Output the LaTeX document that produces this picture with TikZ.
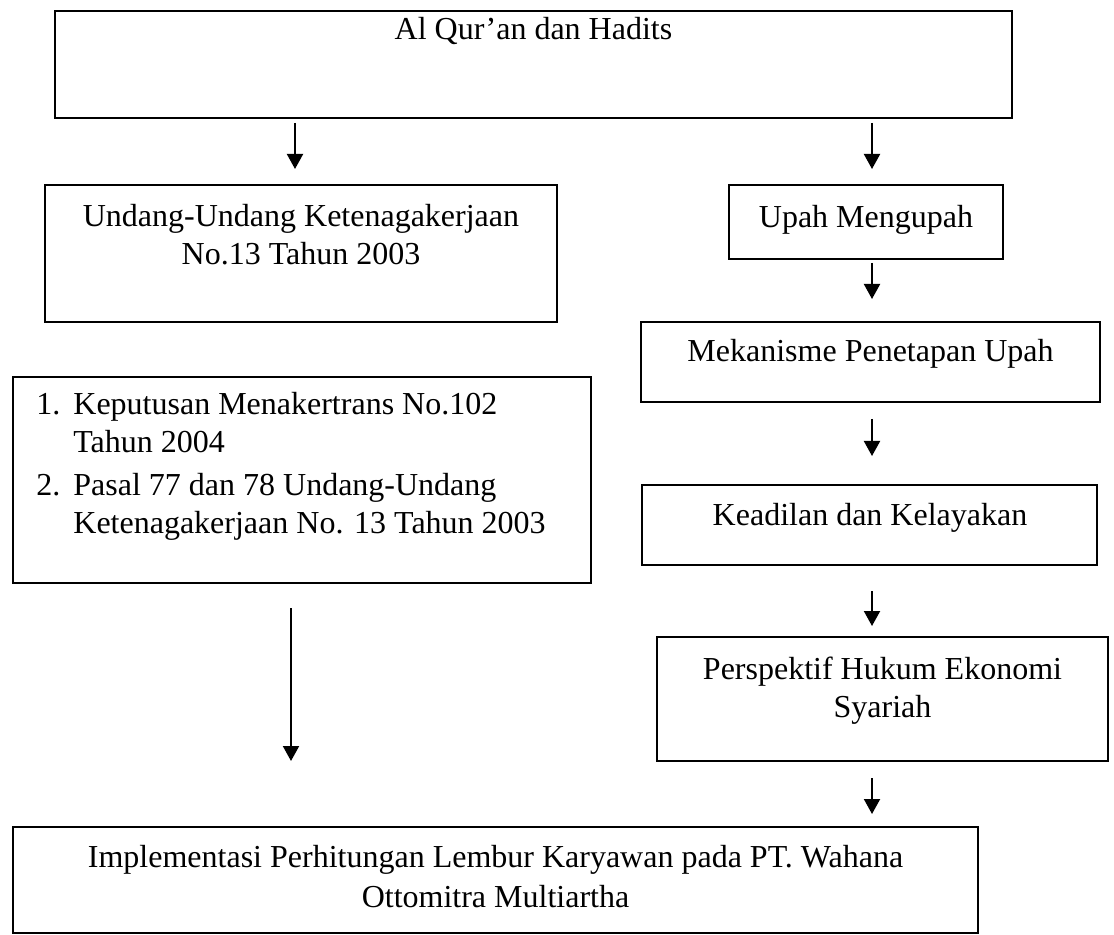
\documentclass[tikz,border=0pt]{standalone}
\usepackage{fontspec}
\setmainfont{Liberation Serif}
\usetikzlibrary{arrows.meta}
\begin{document}
\begin{tikzpicture}[x=0.5pt,y=-0.5pt,
  box/.style={draw=black,line width=1pt,inner sep=0pt,rectangle},
  txt/.style={inner sep=0pt,anchor=base,font=\fontsize{16}{19}\selectfont},
  ltxt/.style={txt,anchor=base west},
  arr/.style={line width=1pt,-{Triangle[width=8pt,length=7.5pt]}}]
\useasboundingbox (0,0) rectangle (1114,935);
% boxes
\node[box,minimum width=478.5pt,minimum height=53.5pt] (quran) at (533.5,64.5) {};
\node[box,minimum width=256pt,minimum height=68.5pt] (uu) at (301,253.5) {};
\node[box,minimum width=137pt,minimum height=37pt] (upah) at (866,222) {};
\node[box,minimum width=229.5pt,minimum height=40pt] (mek) at (870.5,362) {};
\node[box,minimum width=289pt,minimum height=103pt] (list) at (302,480) {};
\node[box,minimum width=227.5pt,minimum height=40pt] (kea) at (869.5,525) {};
\node[box,minimum width=225.5pt,minimum height=62pt] (per) at (882.5,699) {};
\node[box,minimum width=482.5pt,minimum height=53pt] (impl) at (495.5,880) {};
% texts
\node[txt] (tquran) at (533.5,40) {Al Qur’an dan Hadits};
\node[txt] (tuu1) at (301,227) {Undang-Undang Ketenagakerjaan};
\node[txt] (tuu2) at (301,265) {No.13 Tahun 2003};
\node[txt] (tupah) at (866,228) {Upah Mengupah};
\node[txt] (tmek) at (870.5,362) {Mekanisme Penetapan Upah};
\node[txt] (tkea) at (870,525) {Keadilan dan Kelayakan};
\node[txt] (tper1) at (882.5,679) {Perspektif Hukum Ekonomi};
\node[txt] (tper2) at (882.5,717) {Syariah};
\node[ltxt] (n1) at (36,415) {1.};
\node[ltxt] (l1a) at (73,415) {Keputusan Menakertrans No.102};
\node[ltxt] (l1b) at (73,453) {Tahun 2004};
\node[ltxt] (n2) at (36,495) {2.};
\node[ltxt] (l2a) at (73,495) {Pasal 77 dan 78 Undang-Undang};
\node[ltxt] (l2b) at (73,533) {Ketenagakerjaan No. 13 Tahun 2003};
\node[txt] (timpl1) at (495.5,867) {Implementasi Perhitungan Lembur Karyawan pada PT. Wahana};
\node[txt] (timpl2) at (495.5,907) {Ottomitra Multiartha};
% connector columns
\coordinate (lc) at (295,0);
\coordinate (lc2) at (291,0);
\coordinate (rc) at (872,0);
% arrows
\draw[arr,shorten <=2pt,shorten >=7.5pt] (quran.south -| lc) -- (uu.north -| lc);
\draw[arr,shorten <=2pt,shorten >=7.5pt] (quran.south -| rc) -- (upah.north -| rc);
\draw[arr,shorten <=1.5pt,shorten >=11pt] (upah.south -| rc) -- (mek.north -| rc);
\draw[arr,shorten <=8pt,shorten >=14pt] (mek.south -| rc) -- (kea.north -| rc);
\draw[arr,shorten <=12.5pt,shorten >=5pt] (kea.south -| rc) -- (per.north -| rc);
\draw[arr,shorten <=8pt,shorten >=6pt] (per.south -| rc) -- (impl.north -| rc);
\draw[arr,shorten <=12pt,shorten >=32.5pt] (list.south -| lc2) -- (impl.north -| lc2);
\end{tikzpicture}
\end{document}
